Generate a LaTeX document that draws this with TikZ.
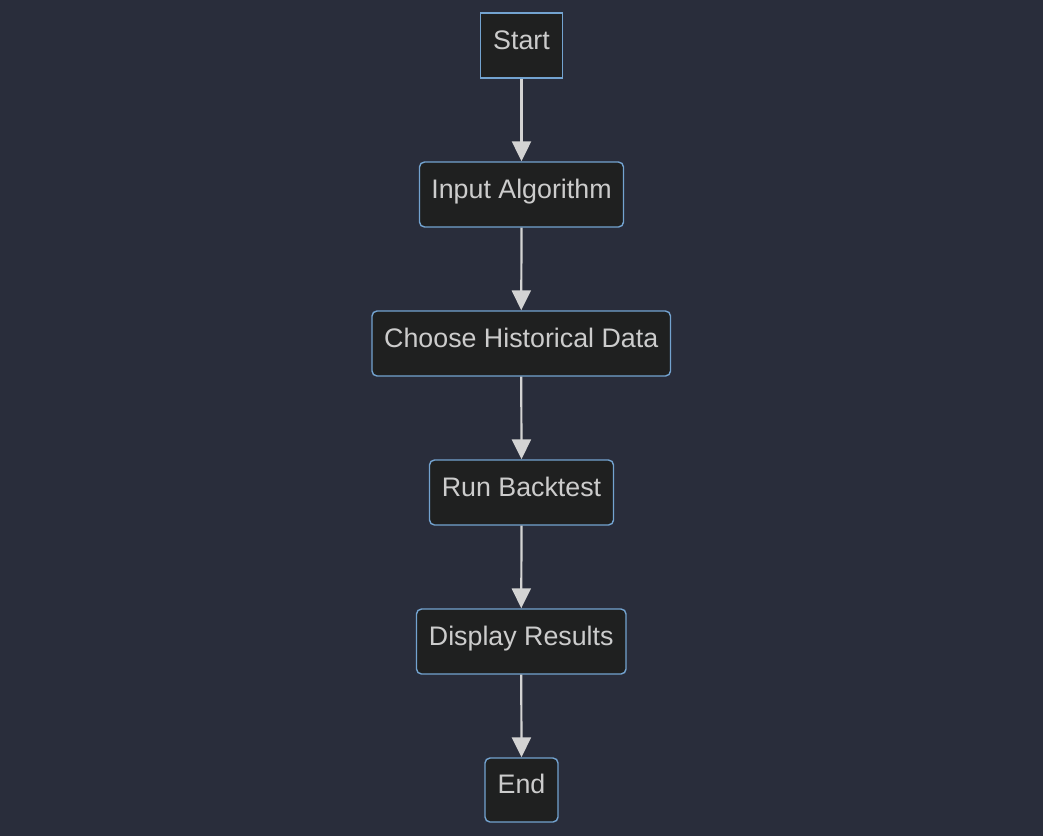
\documentclass[tikz,border=0pt]{standalone}
\usepackage{fontspec}
\setmainfont{Liberation Sans}
\usetikzlibrary{arrows.meta}
\definecolor{bgc}{RGB}{41,45,59}
\definecolor{nodefill}{RGB}{31,32,32}
\definecolor{nodeline}{RGB}{115,163,208}
\definecolor{txt}{RGB}{204,204,204}
\definecolor{arr}{RGB}{211,211,211}
\tikzset{
  box/.style={draw=nodeline, fill=nodefill, line width=1.4pt, text=txt,
    font=\fontsize{26.8}{30}\selectfont, minimum height=65pt, inner sep=0pt,
    text height=19pt, text depth=12pt, rounded corners=5pt},
  sqbox/.style={box, sharp corners},
  flow/.style={draw=arr, line width=2.2pt, -{Triangle[length=20pt,width=19pt]}}
}
\begin{document}
\begin{tikzpicture}[x=1pt,y=-1pt]
\fill[bgc] (0,0) rectangle (1043,836);
\useasboundingbox (0,0) rectangle (1043,836);
\node[sqbox, minimum width=82pt] (start) at (521.5,45.5) {Start};
\node[box, minimum width=204pt] (input) at (521.5,194.5) {Input Algorithm};
\node[box, minimum width=298.5pt] (choose) at (521.25,343.5) {Choose Historical Data};
\node[box, minimum width=184pt] (run) at (521.5,492.5) {Run Backtest};
\node[box, minimum width=209.5pt] (display) at (521.25,641.5) {Display Results};
\node[box, minimum width=73pt, minimum height=64pt] (end) at (521.5,790) {End};
\draw[flow] (start.south) -- (input.north);
\draw[flow] (input.south) -- (choose.north);
\draw[flow] (choose.south) -- (run.north);
\draw[flow] (run.south) -- (display.north);
\draw[flow] (display.south) -- (end.north);
\end{tikzpicture}
\end{document}
